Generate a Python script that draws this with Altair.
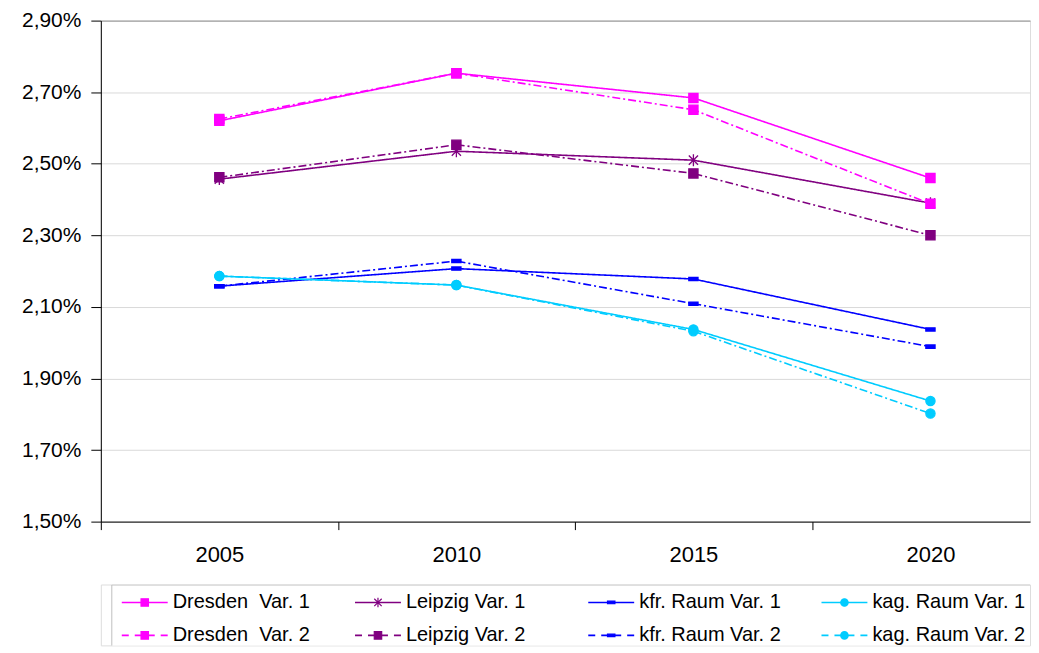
import altair as alt
import pandas as pd

# ---------------- data ----------------
years = [2005, 2010, 2015, 2020]
dresden_v1 = [2.620, 2.753, 2.684, 2.460]
dresden_v2 = [2.625, 2.753, 2.651, 2.388]
leipzig_v1 = [2.457, 2.535, 2.510, 2.390]
leipzig_v2 = [2.462, 2.553, 2.473, 2.300]
kfr_v1 = [2.158, 2.207, 2.178, 2.037]
kfr_v2 = [2.158, 2.228, 2.109, 1.989]
kag_v1 = [2.186, 2.161, 2.037, 1.837]
kag_v2 = [2.186, 2.161, 2.032, 1.802]

series_names = [
    "Dresden\u00a0 Var. 1", "Leipzig Var. 1", "kfr. Raum Var. 1", "kag. Raum Var. 1",
    "Dresden\u00a0 Var. 2", "Leipzig Var. 2", "kfr. Raum Var. 2", "kag. Raum Var. 2",
]
series_values = [dresden_v1, leipzig_v1, kfr_v1, kag_v1,
                 dresden_v2, leipzig_v2, kfr_v2, kag_v2]
series_variant = ["Var. 1"] * 4 + ["Var. 2"] * 4

y_ticks = [1.5, 1.7, 1.9, 2.1, 2.3, 2.5, 2.7, 2.9]
x_ticks = [2002.5, 2005, 2007.5, 2010, 2012.5, 2015, 2017.5, 2020, 2022.5]

# ---------------- styles ----------------
colors = ["#FF00FF", "#800080", "#0000FF", "#00CCFF",
          "#FF00FF", "#800080", "#0000FF", "#00CCFF"]
ASTER = "M-1,-1L1,1M-1,1L1,-1M0,-1.3L0,1.3"
BAR = "M-1,-0.35L1,-0.35L1,0.35L-1,0.35Z"
shapes = ["square", ASTER, BAR, "circle", "square", "square", BAR, "circle"]

rows = []
for name, vals, var in zip(series_names, series_values, series_variant):
    for yr, v in zip(years, vals):
        rows.append({"series": name, "variant": var, "year": yr, "value": v})
df = pd.DataFrame(rows)

leg = pd.DataFrame({
    "series": series_names,
    "variant": series_variant,
    "col": [0, 1, 2, 3, 0, 1, 2, 3],
    "row": [0, 0, 0, 0, 1, 1, 1, 1],
})

FONT = "Liberation Sans"
W = 931
H = 502

color_scale = alt.Scale(domain=series_names, range=colors)
shape_scale = alt.Scale(domain=series_names, range=shapes)

x_enc = alt.X(
    "year:Q",
    scale=alt.Scale(domain=[2002.5, 2022.1], nice=False, zero=False),
    axis=alt.Axis(
        values=x_ticks,
        labelExpr="datum.value % 5 === 0 ? format(datum.value, 'd') : ''",
        tickColor={"condition": {"test": "datum.value % 5 === 0", "value": "transparent"},
                   "value": "#000000"},
        tickSize=8,
        labelPadding=15,
        labelFontSize=22,
        labelFont=FONT,
        labelColor="#000000",
        labelOverlap=False,
        labelFlush=False,
        labelBound=False,
        grid=False,
        domainColor="#000000",
        title=None,
    ),
)
y_enc = alt.Y(
    "value:Q",
    scale=alt.Scale(domain=[1.5, 2.9], nice=False, zero=False),
    axis=alt.Axis(
        values=y_ticks,
        labelExpr="replace(format(datum.value, '.2f'), '.', ',') + '%'",
        tickSize=10,
        labelPadding=10,
        labelFontSize=21,
        labelFont=FONT,
        labelColor="#000000",
        tickColor="#000000",
        domainColor="#000000",
        gridColor={"condition": {"test": "datum.value > 2.85", "value": "#8c8c8c"},
                   "value": "#d9d9d9"},
        minExtent=92,
        maxExtent=92,
        title=None,
    ),
)

lines = alt.Chart(df).mark_line(strokeWidth=1.6).encode(
    x=x_enc,
    y=y_enc,
    color=alt.Color("series:N", scale=color_scale, legend=None),
    strokeDash=alt.StrokeDash(
        "variant:N",
        scale=alt.Scale(domain=["Var. 1", "Var. 2"], range=[[1, 0], [8, 3, 2, 3]]),
        legend=None,
    ),
    detail="series:N",
)

points = alt.Chart(df).mark_point(filled=True, opacity=1, size=85, strokeWidth=1.3).encode(
    x="year:Q",
    y="value:Q",
    fill=alt.Fill("series:N", scale=color_scale, legend=None),
    stroke=alt.Stroke("series:N", scale=color_scale, legend=None),
    shape=alt.Shape("series:N", scale=shape_scale, legend=None),
)

main = alt.layer(lines, points).properties(width=W, height=H)

# ---------------- legend panel ----------------
LH = 61
lx = alt.X("col:Q", scale=alt.Scale(domain=[-0.0899, 3.894], nice=False, zero=False), axis=None)
ly = alt.Y("row:Q", scale=alt.Scale(domain=[-0.5455, 1.303], nice=False, zero=False, reverse=True), axis=None)

box = alt.Chart(alt.Data(values=[{}])).mark_rect(
    fill="white", stroke="#bfbfbf", strokeWidth=1, clip=True
).encode(
    x=alt.value(11), x2=alt.value(W + 20), y=alt.value(0.5), y2=alt.value(LH + 20)
)

leg_lines = alt.Chart(leg).mark_rule(strokeWidth=1.6, xOffset=0, x2Offset=46).encode(
    x=lx,
    x2="col:Q",
    y=ly,
    color=alt.Color("series:N", scale=color_scale, legend=None),
    strokeDash=alt.StrokeDash(
        "variant:N",
        scale=alt.Scale(domain=["Var. 1", "Var. 2"], range=[[1, 0], [7, 6]]),
        legend=None,
    ),
)

leg_points = alt.Chart(leg).mark_point(filled=True, opacity=1, size=55, strokeWidth=1.2, xOffset=23).encode(
    x=lx,
    y=ly,
    fill=alt.Fill("series:N", scale=color_scale, legend=None),
    stroke=alt.Stroke("series:N", scale=color_scale, legend=None),
    shape=alt.Shape("series:N", scale=shape_scale, legend=None),
)

leg_text = alt.Chart(leg).mark_text(
    align="left", baseline="middle", dx=51, fontSize=20, font=FONT, color="#000000"
).encode(x=lx, y=ly, text="series:N")

legend_panel = alt.layer(box, leg_lines, leg_points, leg_text).properties(width=W, height=LH)

chart = alt.vconcat(main, legend_panel, spacing=17).resolve_scale(
    x="independent", y="independent", strokeDash="independent"
).properties(
    padding={"left": 0, "top": 0, "right": 0, "bottom": 0}
).configure_view(stroke=None).configure(font=FONT)

chart.save("out.html", embed_options={"renderer": "svg", "actions": False})
